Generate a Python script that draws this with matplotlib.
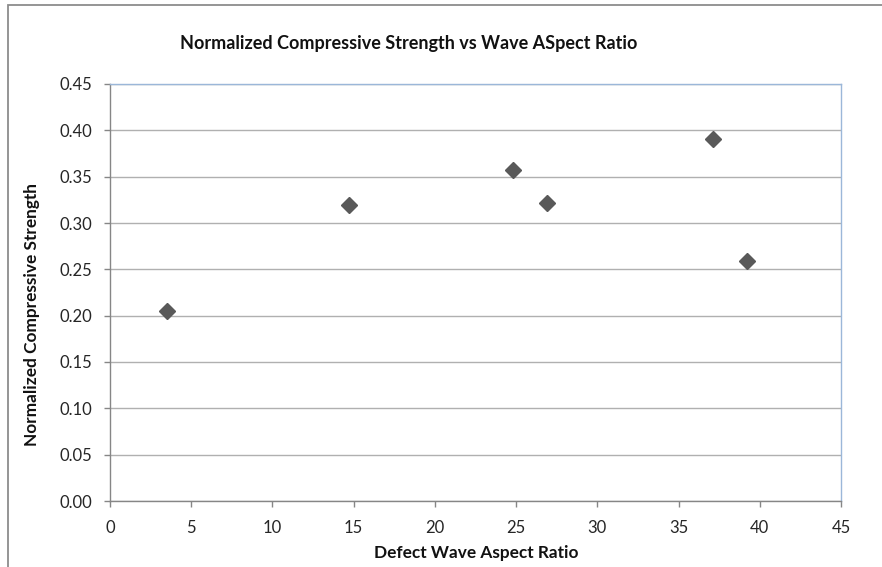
import matplotlib
matplotlib.use("Agg")
import matplotlib.pyplot as plt
from matplotlib.patches import Rectangle

# Measured samples: defect wave aspect ratio vs normalized compressive strength
aspect_ratio = [3.5, 14.7, 24.8, 26.9, 37.1, 39.2]
strength = [0.205, 0.319, 0.357, 0.322, 0.391, 0.259]

x_ticks = [0, 5, 10, 15, 20, 25, 30, 35, 40, 45]
y_ticks = [0.00, 0.05, 0.10, 0.15, 0.20, 0.25, 0.30, 0.35, 0.40, 0.45]

plt.rcParams["font.family"] = ["Lato", "DejaVu Sans"]

W, H = 882, 567
fig = plt.figure(figsize=(W / 100, H / 100), dpi=100)

# chart border (only the top-left corner of it shows on the sheet)
fig.add_artist(Rectangle((8 / W, -0.1), 1.2, 1.1 - 5 / H, transform=fig.transFigure,
                         fill=False, edgecolor="#8c8c8c", linewidth=1.3))

ax = fig.add_axes([110 / W, 1 - 501 / H, (841 - 110) / W, (501 - 84) / H])
ax.set_xlim(0, 45)
ax.set_ylim(0, 0.45)
ax.set_xticks(x_ticks)
ax.set_yticks(y_ticks)
ax.set_xticklabels([str(v) for v in x_ticks])
ax.set_yticklabels([f"{v:.2f}" for v in y_ticks])

ax.grid(axis="y", color="#b0b0b0", linewidth=1.0)
ax.set_axisbelow(True)
for side in ("left", "bottom"):
    ax.spines[side].set_color("#868686")
    ax.spines[side].set_linewidth(1.0)
for side in ("top", "right"):
    ax.spines[side].set_color("#9bb7d9")
    ax.spines[side].set_linewidth(1.0)

ax.tick_params(axis="both", direction="out", length=4.5, width=1, color="#868686",
               labelsize=12, labelcolor="#262626")
ax.tick_params(axis="x", pad=9)
ax.tick_params(axis="y", pad=8)

ax.plot(aspect_ratio, strength, linestyle="none", marker="D", markersize=8.5,
        color="#595959", markeredgecolor="#595959")

fig.text(409 / W, 1 - 43 / H, "Normalized Compressive Strength vs Wave ASpect Ratio",
         ha="center", va="center", fontsize=13, fontweight="bold", color="#111111")
fig.text(476 / W, 1 - 553 / H, "Defect Wave Aspect Ratio",
         ha="center", va="center", fontsize=12.4, fontweight="bold", color="#111111")
fig.text(32 / W, 1 - 314 / H, "Normalized Compressive Strength", rotation=90,
         ha="center", va="center", fontsize=12.4, fontweight="bold", color="#111111")

fig.savefig("out.png", dpi=100, facecolor="white")
